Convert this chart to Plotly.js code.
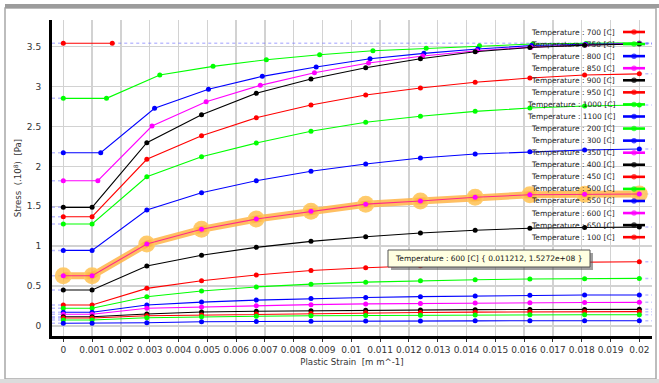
<!DOCTYPE html>
<html>
<head>
<meta charset="utf-8">
<script src="https://cdn.plot.ly/plotly-3.0.1.min.js"></script>
<style>html,body{margin:0;padding:0;background:#fff;}#chart{width:659px;height:383px;}</style>
</head>
<body>
<div id="chart"></div>
<script>
// ---------- data ----------
const temperatures = ['100','200','300','350','400','450','500','550','600','650','700','750','800','850','900','950','1000','1100'];
const legendOrder = ['700','750','800','850','900','950','1000','1100','200','300','350','400','450','500','550','600','650','100'];
const palette = ['#ff0000','#00ff00','#0000ff','#ff00ff','#000000'];

const strainBase = [0, 0.001, 0.0029, 0.0048, 0.0067, 0.0086, 0.0105, 0.0124, 0.0143, 0.0162, 0.0181, 0.02];
const strain100 = [0, 0.0017];
const strain200 = [0, 0.0015, 0.00335, 0.0052, 0.00705, 0.0089, 0.01075, 0.0126, 0.01445, 0.0163, 0.01815, 0.02];
const strain300 = [0, 0.0013, 0.00317, 0.00504, 0.00691, 0.00878, 0.01065, 0.01252, 0.01439, 0.01626, 0.01813, 0.02];
const strain350 = [0, 0.0012, 0.00308, 0.00496, 0.00684, 0.00872, 0.0106, 0.01248, 0.01436, 0.01624, 0.01812, 0.02];

// stress in units of 1e8 Pa
const s100  = [3.543, 3.543];
const s200  = [2.853, 2.853, 3.145, 3.254, 3.337, 3.40, 3.45, 3.48, 3.513, 3.534, 3.542, 3.548];
const s300  = [2.172, 2.172, 2.728, 2.966, 3.129, 3.246, 3.35, 3.417, 3.471, 3.515, 3.53, 3.54];
const s350  = [1.821, 1.821, 2.506, 2.811, 3.016, 3.174, 3.296, 3.383, 3.45, 3.495, 3.522, 3.54];
const s400  = [1.487, 1.487, 2.297, 2.648, 2.916, 3.095, 3.237, 3.35, 3.437, 3.49, 3.52, 3.535];
const s450  = [1.37, 1.37, 2.089, 2.385, 2.61, 2.769, 2.895, 2.982, 3.054, 3.108, 3.145, 3.16];
const s500  = [1.278, 1.278, 1.871, 2.122, 2.293, 2.44, 2.553, 2.628, 2.69, 2.732, 2.757, 2.77];
const s550  = [0.948, 0.948, 1.454, 1.671, 1.821, 1.939, 2.03, 2.105, 2.155, 2.184, 2.206, 2.218];
const s600  = [0.63, 0.63, 1.028, 1.212, 1.341, 1.437, 1.5272, 1.566, 1.613, 1.645, 1.652, 1.655];
const s650  = [0.451, 0.451, 0.752, 0.886, 0.986, 1.061, 1.119, 1.165, 1.2, 1.225, 1.235, 1.24];
const s700  = [0.263, 0.263, 0.472, 0.568, 0.64, 0.695, 0.731, 0.756, 0.78, 0.795, 0.802, 0.805];
const s750  = [0.222, 0.222, 0.367, 0.439, 0.49, 0.525, 0.55, 0.567, 0.58, 0.589, 0.593, 0.597];
const s800  = [0.172, 0.172, 0.263, 0.30, 0.325, 0.345, 0.358, 0.368, 0.377, 0.385, 0.388, 0.389];
const s850  = [0.147, 0.147, 0.222, 0.238, 0.255, 0.268, 0.277, 0.283, 0.288, 0.292, 0.295, 0.297];
const s900  = [0.117, 0.117, 0.15, 0.175, 0.185, 0.192, 0.198, 0.202, 0.205, 0.207, 0.208, 0.209];
const s950  = [0.10, 0.10, 0.129, 0.138, 0.15, 0.158, 0.165, 0.17, 0.174, 0.177, 0.179, 0.18];
const s1000 = [0.075, 0.075, 0.104, 0.117, 0.123, 0.128, 0.132, 0.135, 0.138, 0.14, 0.141, 0.142];
const s1100 = [0.034, 0.034, 0.041, 0.054, 0.058, 0.061, 0.063, 0.064, 0.065, 0.066, 0.067, 0.067];

const xTickValues = [0,0.001,0.002,0.003,0.004,0.005,0.006,0.007,0.008,0.009,0.01,0.011,0.012,0.013,0.014,0.015,0.016,0.017,0.018,0.019,0.02];
const yTickValues = [0,0.5,1,1.5,2,2.5,3,3.5];
const highlighted = '600';
const tooltipText = 'Temperature : 600 [C] { 0.011212, 1.5272e+08 }';

// ---------- build ----------
const strains = {'100':strain100,'200':strain200,'300':strain300,'350':strain350};
const stresses = {'100':s100,'200':s200,'300':s300,'350':s350,'400':s400,'450':s450,'500':s500,'550':s550,'600':s600,'650':s650,'700':s700,'750':s750,'800':s800,'850':s850,'900':s900,'950':s950,'1000':s1000,'1100':s1100};
const colorOf = {};
temperatures.forEach((t,i)=>{ colorOf[t] = palette[i % palette.length]; });

const XMIN = -0.000392, XMAX = 0.02044;
const FONT = 'DejaVu Sans';
const traces = [];

// dashed reference extensions (first value to the axis, last value to the edge)
temperatures.forEach(t=>{
  const xs = strains[t] || strainBase, ys = stresses[t];
  const dash = {type:'scatter', mode:'lines', hoverinfo:'skip', showlegend:false,
    line:{color:'rgba(110,110,255,0.45)', width:1.5, dash:'3px,3px'}};
  traces.push(Object.assign({}, dash, {x:[XMIN, xs[0]], y:[ys[0], ys[0]]}));
  traces.push(Object.assign({}, dash, {x:[xs[xs.length-1], XMAX], y:[ys[ys.length-1], ys[ys.length-1]]}));
});

// highlight glow of selected series
{
  const xs = strains[highlighted] || strainBase, ys = stresses[highlighted];
  traces.push({type:'scatter', mode:'lines', x:xs, y:ys, hoverinfo:'skip', showlegend:false,
    line:{color:'rgba(255,180,70,0.85)', width:7}});
  traces.push({type:'scatter', mode:'markers', x:xs, y:ys, hoverinfo:'skip', showlegend:false,
    marker:{size:17, color:'rgba(255,205,110,1)', line:{width:0},
      gradient:{type:'radial', color:'rgba(255,160,10,0.5)'}}});
}

// curves
temperatures.forEach(t=>{
  const xs = strains[t] || strainBase, ys = stresses[t];
  const c = colorOf[t];
  traces.push({type:'scatter', mode:'lines+markers', x:xs, y:ys, name:'Temperature : '+t+' [C]', showlegend:false,
    line:{color: t===highlighted ? '#ff2a8a' : c, width: 1.1},
    marker:{symbol:'circle', size:5, color:c, line:{width:0}}});
});

// legend samples drawn on an overlay pixel axis
const legendTop = 32, legendStep = 12.07;
const annotations = [];
legendOrder.forEach((t,i)=>{
  const yy = legendTop + i*legendStep;
  traces.push({type:'scatter', mode:'lines+markers', xaxis:'x2', yaxis:'y2', hoverinfo:'skip', showlegend:false,
    x:[623,634,645], y:[yy,yy,yy], line:{color:colorOf[t], width:2.6},
    marker:{symbol:'circle', size:[0,5.5,0], color:colorOf[t], line:{width:0}}});
  annotations.push({xref:'x2', yref:'y2', x:617, y:yy, xanchor:'right', yanchor:'middle', showarrow:false,
    text:'Temperature : '+t+' [C]', font:{family:FONT, size:7.5, color:'#222'}});
});

// tooltip text (box drawn as shapes below)
annotations.push({xref:'x2', yref:'y2', x:489, y:258.5, xanchor:'center', yanchor:'middle', showarrow:false,
  text:tooltipText, font:{family:FONT, size:7.5, color:'#111'}});

// pixel -> paper helpers (plot area 52..652 x 20..336)
const px = v => (v-52)/600, py = v => (336-v)/316;

const layout = {
  width:659, height:383,
  margin:{l:52, r:7, t:20, b:47, pad:0},
  paper_bgcolor:'#ffffff', plot_bgcolor:'#ffffff',
  font:{family:FONT, size:9, color:'#333'},
  showlegend:false,
  hovermode:false,
  xaxis:{range:[XMIN, XMAX], tickmode:'array', tickvals:xTickValues,
    showgrid:true, gridcolor:'#d2d2d2', gridwidth:1.5, zeroline:false,
    showline:true, linecolor:'#000', linewidth:3,
    ticks:'outside', ticklen:3, tickcolor:'#333', tickwidth:1,
    tickfont:{family:FONT, size:9, color:'#333'},
    title:{text:'Plastic Strain\u00a0\u00a0[m m^-1]', font:{family:FONT, size:8.6, color:'#333'}, standoff:6}},
  yaxis:{range:[-0.125, 3.835], tickmode:'array', tickvals:yTickValues,
    showgrid:true, gridcolor:'#d2d2d2', gridwidth:1.5, zeroline:false,
    showline:true, linecolor:'#000', linewidth:3,
    ticks:'outside', ticklen:6, tickcolor:'rgba(0,0,0,0)',
    tickfont:{family:FONT, size:9, color:'#333'},
    title:{text:'Stress\u00a0\u00a0(.10<sup>8</sup>)\u00a0\u00a0[Pa]', font:{family:FONT, size:8.6, color:'#333'}, standoff:4}},
  xaxis2:{overlaying:'x', anchor:'y2', range:[52,652], visible:false, showgrid:false, zeroline:false},
  yaxis2:{overlaying:'y', anchor:'x2', range:[336,20], visible:false, showgrid:false, zeroline:false},
  annotations: annotations,
  shapes:[
    {type:'rect', xref:'paper', yref:'paper', x0:px(5), x1:px(656), y0:py(8), y1:py(379), line:{color:'#a8a8a8', width:1.5}, layer:'below'},
    {type:'rect', xref:'paper', yref:'paper', x0:px(5), x1:px(659), y0:py(4), y1:py(8), fillcolor:'#9c9c9c', line:{width:0}},
    {type:'rect', xref:'paper', yref:'paper', x0:px(0), x1:px(659), y0:py(379), y1:py(383), fillcolor:'#dcdcdc', line:{width:0}},
    {type:'rect', xref:'x2', yref:'y2', x0:391, x1:593, y0:253, y1:270, fillcolor:'rgba(80,80,80,0.55)', line:{width:0}},
    {type:'rect', xref:'x2', yref:'y2', x0:388, x1:590, y0:250, y1:267, fillcolor:'#ffffe1', line:{color:'#555', width:1}}
  ]
};

Plotly.newPlot('chart', traces, layout, {staticPlot:true, displayModeBar:false});
</script>
</body>
</html>
